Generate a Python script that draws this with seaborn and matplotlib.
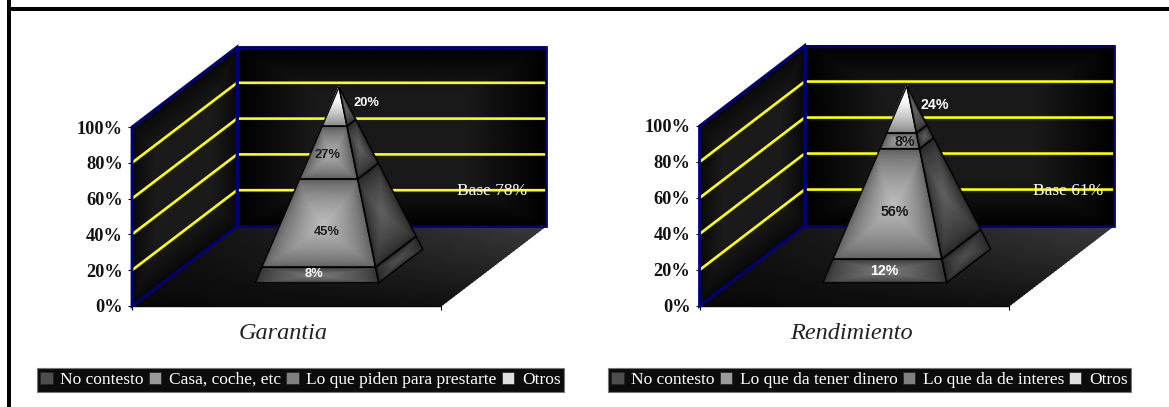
import numpy as np
import pandas as pd
import matplotlib
matplotlib.use('Agg')
import matplotlib.pyplot as plt
import seaborn as sns
from matplotlib.patches import Patch, Rectangle

# values bottom -> top of each pyramid
garantia_labels = ['No contesto', 'Casa, coche, etc', 'Lo que piden para prestarte', 'Otros']
garantia_values = [8, 45, 27, 20]
garantia_base = 'Base 78%'

rendimiento_labels = ['No contesto', 'Lo que da tener dinero', 'Lo que da de interes', 'Otros']
rendimiento_values = [12, 56, 8, 24]
rendimiento_base = 'Base 61%'

y_ticks = [0, 20, 40, 60, 80, 100]

# (edge grey, centre grey) of the front faces, and the side faces
front_greys = [(0.20, 0.48), (0.36, 0.74), (0.34, 0.68), (0.50, 0.98)]
side_greys = [(0.14, 0.32), (0.15, 0.38), (0.15, 0.38), (0.18, 0.42)]
label_colors = ['white', '#1a1a1a', '#1a1a1a', 'white']
legend_greys = ['#4d4d4d', '#9a9a9a', '#808080', '#e0e0e0']

W, H = 1169, 407
DEPTH_X = 105 / 309      # oblique shift of the depth axis, in x units
DEPTH_Y = 80 / 179 * 100  # same, in percent units
YELLOW = '#ffff00'
NAVY = '#000080'
SERIF = 'Liberation Serif'


def project(x, h, d):
    return x + d * DEPTH_X, h + d * DEPTH_Y


def shaded_face(ax, corners, grey_fn, zorder):
    # corners: bottom-left, bottom-right, top-right, top-left
    bl, br, tr, tl = [np.array(c) for c in corners]
    u, v = np.meshgrid(np.linspace(0, 1, 41), np.linspace(0, 1, 41))
    xs = (1 - v) * ((1 - u) * bl[0] + u * br[0]) + v * ((1 - u) * tl[0] + u * tr[0])
    ys = (1 - v) * ((1 - u) * bl[1] + u * br[1]) + v * ((1 - u) * tl[1] + u * tr[1])
    ax.pcolormesh(xs, ys, grey_fn(u, v), cmap='gray', vmin=0, vmax=1,
                  shading='gouraud', zorder=zorder, clip_on=False)


def frame_gradient(edge, centre, gain=1.0, power=0.65):
    def fn(u, v):
        t = 2 * np.minimum(np.minimum(u, 1 - u), np.minimum(v, 1 - v))
        return edge + (centre - edge) * np.minimum(t * gain, 1) ** power
    return fn


def apex_gradient(edge, centre):
    # tip of the pyramid: brightest towards the apex
    def fn(u, v):
        return edge + (centre - edge) * np.minimum(v * 1.5, 1) ** 0.8
    return fn


def floor_gradient(u, v):
    return 0.03 + 0.17 * v * (0.35 + 0.65 * u) + 0.03 * u


def draw_walls(ax):
    left = [project(0, 0, 0), project(0, 0, 1), project(0, 100, 1), project(0, 100, 0)]
    back = [project(0, 0, 1), project(1, 0, 1), project(1, 100, 1), project(0, 100, 1)]
    floor = [project(0, 0, 0), project(1, 0, 0), project(1, 0, 1), project(0, 0, 1)]
    shaded_face(ax, floor, floor_gradient, 1)
    shaded_face(ax, left, frame_gradient(0.02, 0.105, gain=2.2), 1)
    shaded_face(ax, back, frame_gradient(0.0, 0.10, gain=2.0, power=1.0), 1)
    ax.plot([0, 1], [0, 0], color='#050505', linewidth=1.0, zorder=2, clip_on=False)

    rows = []
    for tick in y_ticks[1:-1]:
        for d, x in [(0, 0), (1, 0), (1, 1)]:
            px, py = project(x, tick, d)
            rows.append({'level': tick, 'order': len(rows), 'x': px, 'y': py})
    grid = pd.DataFrame(rows)
    sns.lineplot(data=grid, x='x', y='y', units='level', estimator=None, sort=False,
                 color=YELLOW, linewidth=1.9, ax=ax, zorder=2, clip_on=False)

    for wall in (left, back):
        xs, ys = zip(*wall)
        ax.fill(xs, ys, fill=False, edgecolor=NAVY, linewidth=2.0, zorder=3,
                clip_on=False, joinstyle='miter')


def draw_pyramid(ax, values, offsets, label_size):
    half = 0.2
    half_d = 0.21
    cx, cd = 0.5, 0.5
    tops = np.cumsum(values)
    bottoms = tops - np.array(values)

    def corner(h, sx, sd):
        f = 1 - h / 100
        return project(cx + sx * half * f, h, cd + sd * half_d * f)

    for i, (h0, h1) in enumerate(zip(bottoms, tops)):
        front = [corner(h0, -1, -1), corner(h0, 1, -1), corner(h1, 1, -1), corner(h1, -1, -1)]
        side = [corner(h0, 1, -1), corner(h0, 1, 1), corner(h1, 1, 1), corner(h1, 1, -1)]
        shaded_face(ax, side, frame_gradient(*side_greys[i]), 4)
        front_fn = apex_gradient if i == len(values) - 1 else frame_gradient
        shaded_face(ax, front, front_fn(*front_greys[i]), 4)
        for face in (side, front):
            xs, ys = zip(*face)
            ax.fill(xs, ys, fill=False, edgecolor='black', linewidth=1.0, zorder=5,
                    clip_on=False, joinstyle='round')

        hm = (h0 + h1) / 2
        f = 1 - hm / 100
        mx, my = project(cx, hm, cd - half_d * f)
        ax.annotate(f'{values[i]}%', (mx, my), xytext=offsets[i], textcoords='offset pixels',
                    ha='center', va='center', fontsize=label_size, fontweight='bold',
                    family='Liberation Sans', color=label_colors[i], zorder=6,
                    annotation_clip=False)


def draw_panel(fig, x0, width, y0, y1, title, labels, values, base, base_xy, offsets, legend_box,
               label_size):
    ax = fig.add_axes([x0 / W, (H - y0) / H, width / W, (y0 - y1) / H])
    ax.patch.set_visible(False)
    draw_walls(ax)
    draw_pyramid(ax, values, offsets, label_size)

    ax.set_xlim(0, 1)
    ax.set_ylim(0, 100)
    ax.set_xticks([0, 1], ['', ''])
    ax.set_yticks(y_ticks, [f'{t}%' for t in y_ticks])
    ax.tick_params(axis='both', length=3, width=0.8, color='black', pad=3.5, bottom=True, left=True)
    for lab in ax.get_yticklabels():
        lab.set_family(SERIF)
        lab.set_fontweight('bold')
        lab.set_fontsize(13.2)
        lab.set_color('#111111')
    ax.set_xlabel(title, family=SERIF, style='italic', fontsize=17.5, color='#222222', labelpad=6)
    ax.xaxis.label.set_x(0.49)
    ax.set_ylabel('')
    sns.despine(ax=ax, left=True, bottom=True)

    ax.annotate(base, base_xy, xycoords='figure pixels', ha='center', va='center',
                family=SERIF, fontsize=12.5, color='white', zorder=7, annotation_clip=False)

    handles = [Patch(facecolor=g, edgecolor='#222222', linewidth=0.5) for g in legend_greys]
    leg = fig.legend(handles, labels, ncol=4, loc='center',
                     bbox_to_anchor=legend_box, bbox_transform=fig.transFigure,
                     mode='expand', frameon=True, fancybox=False, facecolor='#0c0c0c',
                     edgecolor='#777777', labelcolor='white', borderaxespad=0, borderpad=0.2,
                     handlelength=0.7, handleheight=0.7, handletextpad=0.45, columnspacing=0.4,
                     prop={'family': SERIF, 'size': 12.5})
    leg.get_frame().set_linewidth(0.8)
    leg.get_frame().set_alpha(1)
    return ax


sns.set_theme(style='white')
plt.rcParams['font.family'] = ['Liberation Serif', 'DejaVu Sans']

fig = plt.figure(figsize=(W / 100, H / 100), dpi=100, facecolor='white')

draw_panel(fig, 132, 309, 306, 127, 'Garantia', garantia_labels, garantia_values, garantia_base,
           (492, H - 191), [(-4, 1), (3, -9), (-4, -2), (30, 4)],
           (37 / W, (H - 393) / H, 527 / W, 26 / H), 9.3)
draw_panel(fig, 699.5, 309.5, 306, 126, 'Rendimiento', rendimiento_labels, rendimiento_values,
           rendimiento_base, (1068, H - 191), [(-2, 0), (1, -8), (4, -1), (31, 4)],
           (608 / W, (H - 393) / H, 523 / W, 26 / H), 10.2)

# slide frame: only the top and left sides show in the crop
fig.add_artist(Rectangle((7 / W, 0), 4 / W, 1, transform=fig.transFigure,
                         color='black', linewidth=0))
fig.add_artist(Rectangle((7 / W, (H - 11) / H), 1, 4 / H, transform=fig.transFigure,
                         color='black', linewidth=0))

fig.savefig('out.png', dpi=100, facecolor='white')
plt.close(fig)
